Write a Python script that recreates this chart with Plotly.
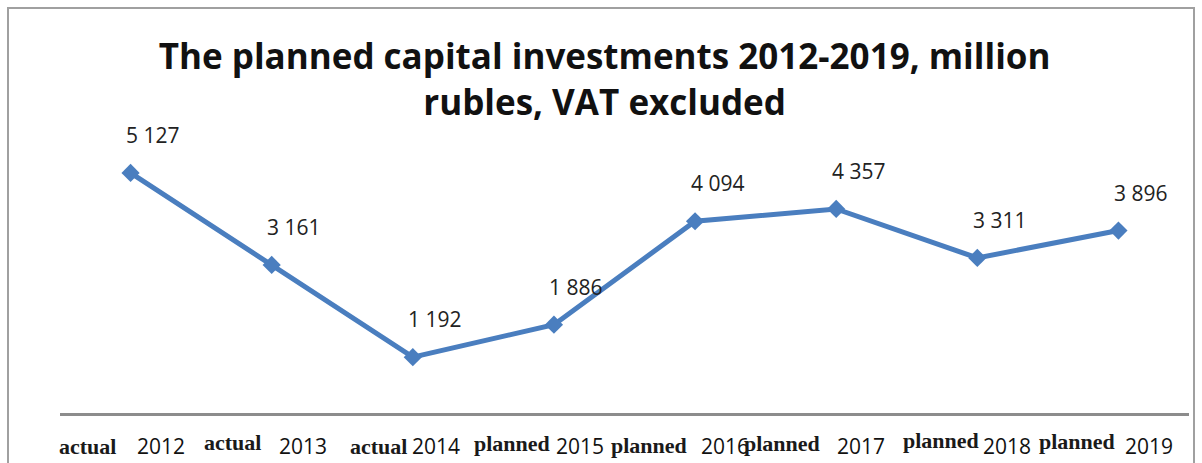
import plotly.graph_objects as go

categories = ["2012", "2013", "2014", "2015", "2016", "2017", "2018", "2019"]
statuses = ["actual", "actual", "actual", "planned", "planned", "planned", "planned", "planned"]
values = [5127, 3161, 1192, 1886, 4094, 4357, 3311, 3896]
value_labels = ["5 127", "3 161", "1 192", "1 886", "4 094", "4 357", "3 311", "3 896"]

W, H = 1202, 463
L, R, T, B = 60, 13, 132, 50

# label placement tweaks (style only, as in the source picture)
status_dx = [-13, -9, -4, -2, -6, -14, 4, -1]
status_dy = [0, 4, 0, 3, 1, 3, 6, 5]
year_dx = [4, 5, -3, 0, 4, -1, 4, 5]

xpos = list(range(len(categories)))

fig = go.Figure()
fig.add_trace(go.Scatter(
    x=xpos, y=values, mode="lines+markers",
    line=dict(color="#4A7EBF", width=5),
    marker=dict(symbol="diamond", size=14, color="#4A7EBF"),
    hoverinfo="skip", showlegend=False,
))

for x, v, t in zip(xpos, values, value_labels):
    fig.add_annotation(x=x, y=v, text=t, showarrow=False, xshift=22, yshift=38,
                       font=dict(family="Open Sans", size=21, color="#222222"))

for x, s, c, sdx, sdy, ydx in zip(xpos, statuses, categories, status_dx, status_dy, year_dx):
    fig.add_annotation(
        x=x, y=0, xref="x", yref="paper", yanchor="middle", xanchor="right",
        xshift=sdx, yshift=-33 + sdy, showarrow=False, text=f"<b>{s}</b>",
        font=dict(family="Liberation Serif", size=22, color="#1a1a1a"))
    fig.add_annotation(
        x=x, y=0, xref="x", yref="paper", yanchor="middle", xanchor="left",
        xshift=ydx, yshift=-33, showarrow=False, text=c,
        font=dict(family="Open Sans", size=21, color="#111111"))

fig.update_layout(
    width=W, height=H,
    margin=dict(l=L, r=R, t=T, b=B, autoexpand=False),
    paper_bgcolor="white", plot_bgcolor="white",
    title=dict(text="<b>The planned capital investments 2012-2019, million<br>rubles, VAT excluded</b>",
               x=0.503, xanchor="center", xref="container",
               y=1 - 69 / H, yanchor="middle", yref="container",
               font=dict(family="Open Sans", size=35, color="#111111")),
    xaxis=dict(range=[-0.5, len(categories) - 0.5],
               tickmode="array", tickvals=xpos, showticklabels=False,
               showline=True, linecolor="#8C8C8C", linewidth=3, automargin=False,
               showgrid=False, zeroline=False, ticks=""),
    yaxis=dict(range=[0, 6000], visible=False, showgrid=False, zeroline=False),
    shapes=[dict(type="rect", xref="paper", yref="paper",
                 x0=-52/1129, x1=(1194-60)/1129, y0=-0.3, y1=(413-8)/281,
                 line=dict(color="#A0A0A0", width=2), layer="below")],
)

fig.write_html("out.html", config={"displayModeBar": False},
               post_script="document.body.style.margin='0';")
